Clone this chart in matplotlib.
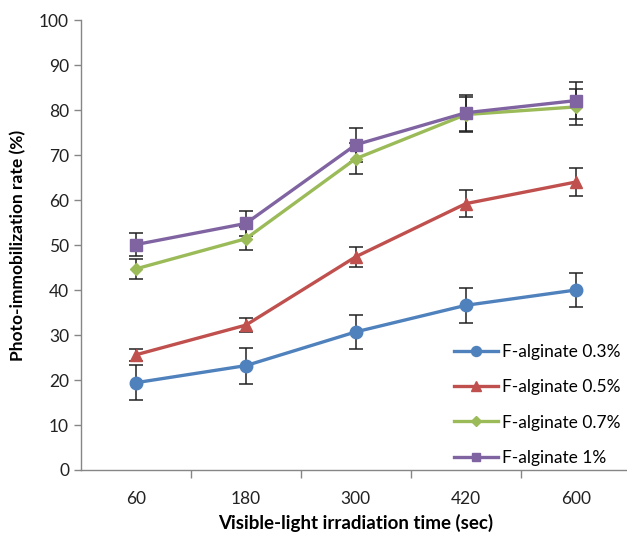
import matplotlib.pyplot as plt
from matplotlib.ticker import FixedLocator

plt.rcParams['font.family'] = ['Lato', 'DejaVu Sans']

times = ['60', '180', '300', '420', '600']
labels = ['F-alginate 0.3%', 'F-alginate 0.5%', 'F-alginate 0.7%', 'F-alginate 1%']

rate_03 = [19.4, 23.2, 30.7, 36.6, 40.0]
err_03 = [3.9, 4.0, 3.8, 3.9, 3.8]
rate_05 = [25.6, 32.2, 47.4, 59.2, 64.0]
err_05 = [1.3, 1.6, 2.2, 3.0, 3.1]
rate_07 = [44.7, 51.4, 69.2, 79.0, 80.7]
err_07 = [2.2, 2.6, 3.5, 3.8, 4.0]
rate_1 = [50.1, 54.8, 72.3, 79.4, 82.1]
err_1 = [2.5, 2.8, 3.8, 4.0, 4.2]

series = [
    (rate_03, err_03, '#4F81BD', 'o', 9),
    (rate_05, err_05, '#C0504D', '^', 9),
    (rate_07, err_07, '#9BBB59', 'D', 6),
    (rate_1, err_1, '#8064A2', 's', 8),
]


def main():
    fig = plt.figure(figsize=(6.27, 5.35), dpi=100)
    ax = fig.add_axes([0.129, 0.1215, 0.877, 0.841])
    x = list(range(len(times)))

    for (vals, errs, color, marker, ms), label in zip(series, labels):
        ax.errorbar(x, vals, yerr=errs, fmt='none', ecolor='#222222',
                    elinewidth=1.1, capsize=5, capthick=1.1, zorder=2)
        ax.plot(x, vals, color=color, lw=2.4, marker=marker, ms=ms,
                label=label, zorder=3)

    ax.set_xlim(-0.5, 4.5)
    ax.set_ylim(0, 100)
    ax.set_yticks(range(0, 101, 10))
    ax.set_xticks(x)
    ax.set_xticklabels(times)
    ax.xaxis.set_minor_locator(FixedLocator([0.5, 1.5, 2.5, 3.5, 4.5]))
    ax.tick_params(axis='x', which='major', length=0, pad=15, labelsize=12.5, labelcolor='#222222')
    ax.tick_params(axis='x', which='minor', length=6, color='#868686', width=1)
    ax.tick_params(axis='y', length=5, color='#868686', width=1, labelsize=12.5, labelcolor='#222222')

    for side in ['top', 'right']:
        ax.spines[side].set_visible(False)
    for side in ['left', 'bottom']:
        ax.spines[side].set_color('#868686')
        ax.spines[side].set_linewidth(1)

    ax.set_ylabel('Photo-immobilization rate (%)', fontweight='bold', fontsize=12.5, labelpad=9)
    ax.set_xlabel('Visible-light irradiation time (sec)', fontweight='bold', fontsize=13.5, labelpad=5)

    ax.legend(loc='lower right', bbox_to_anchor=(1.01, -0.025), frameon=False, fontsize=12.5,
              handlelength=2.5, labelspacing=1.1, handletextpad=0.25, markerscale=0.8)

    fig.savefig('out.png', dpi=100)


if __name__ == "__main__":
    main()
